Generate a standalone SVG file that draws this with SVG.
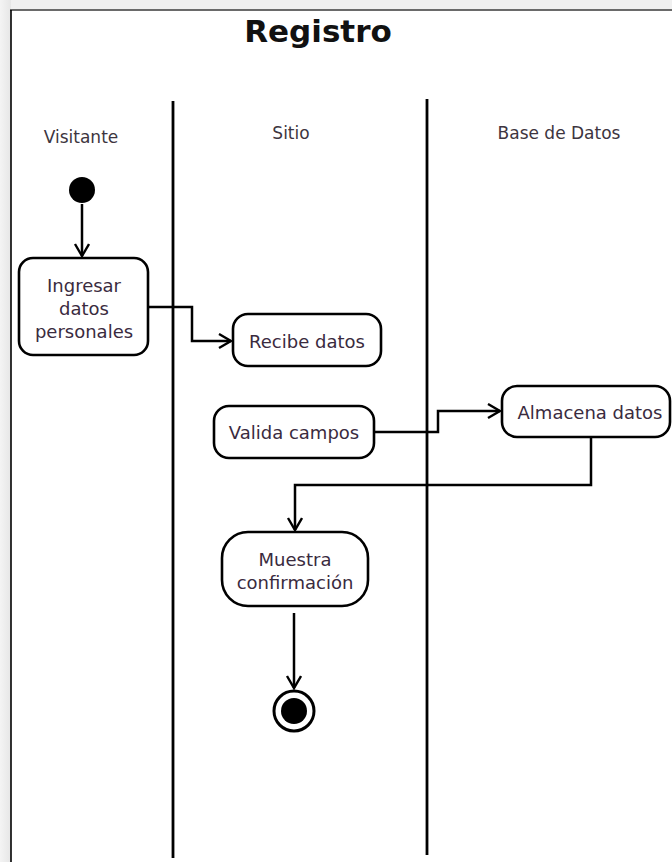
<svg xmlns="http://www.w3.org/2000/svg" width="672" height="862" viewBox="0 0 672 862">
<defs>
<linearGradient id="bgL" x1="0" y1="0" x2="1" y2="0"><stop offset="0" stop-color="#f4f4f4"/><stop offset="1" stop-color="#e6e6e6"/></linearGradient>
<marker id="arr" markerUnits="userSpaceOnUse" markerWidth="16" markerHeight="18" refX="13" refY="8" orient="auto">
<path d="M1,1 L13,8 L1,15" fill="none" stroke="#000" stroke-width="2.4"/>
</marker>
<style>
.box{fill:#fff;stroke:#000;stroke-width:2.6}
.t{font-family:"DejaVu Sans",Verdana,sans-serif;font-size:18px;fill:#3a2b3e;text-anchor:middle}
.lane{font-family:"DejaVu Sans",Verdana,sans-serif;font-size:17px;fill:#3d3540;text-anchor:middle}
.c{fill:none;stroke:#000;stroke-width:2.5}
.div{stroke:#000;stroke-width:2.8}
</style>
</defs>
<rect x="0" y="0" width="672" height="862" fill="#f0f0f0"/>
<rect x="0" y="0" width="11" height="862" fill="url(#bgL)"/>
<rect x="11" y="10" width="661" height="852" fill="#fff"/>
<line x1="10" y1="10" x2="672" y2="10" stroke="#6a6a6a" stroke-width="2"/>
<line x1="11" y1="10" x2="11" y2="862" stroke="#000" stroke-width="1.6"/>
<text x="318" y="42" font-family="'DejaVu Sans',Verdana,sans-serif" font-weight="bold" font-size="31" fill="#111" text-anchor="middle">Registro</text>
<g id="lanes">
<line class="div" x1="173" y1="101" x2="173" y2="858"/>
<line class="div" x1="427" y1="99" x2="427" y2="855"/>
<text class="lane" x="81" y="143">Visitante</text>
<text class="lane" x="291" y="139">Sitio</text>
<text class="lane" x="559" y="139">Base de Datos</text>
</g>
<g id="connectors">
<line class="c" x1="82" y1="204" x2="82" y2="256" marker-end="url(#arr)"/>
<polyline class="c" points="148,307 192,307 192,341 231,341" marker-end="url(#arr)"/>
<polyline class="c" points="374,432 438,432 438,411 500,411" marker-end="url(#arr)"/>
<polyline class="c" points="591,438 591,485 295,485 295,530" marker-end="url(#arr)"/>
<line class="c" x1="294" y1="613" x2="294" y2="688" marker-end="url(#arr)"/>
</g>
<g id="start"><circle cx="82" cy="190" r="13" fill="#000"/></g>
<g id="ingresar">
<rect class="box" x="19" y="258" width="129" height="97" rx="14"/>
<text class="t" x="84" y="292">Ingresar</text>
<text class="t" x="84" y="315">datos</text>
<text class="t" x="84" y="338">personales</text>
</g>
<g id="recibe">
<rect class="box" x="233" y="314" width="148" height="52" rx="15"/>
<text class="t" x="307" y="348">Recibe datos</text>
</g>
<g id="valida">
<rect class="box" x="214" y="406" width="160" height="52" rx="15"/>
<text class="t" x="294" y="439">Valida campos</text>
</g>
<g id="almacena">
<rect class="box" x="502" y="386" width="168" height="51" rx="15"/>
<text class="t" x="590" y="419">Almacena datos</text>
</g>
<g id="muestra">
<rect class="box" x="222" y="532" width="146" height="74" rx="26"/>
<text class="t" x="295" y="566">Muestra</text>
<text class="t" x="295" y="589">confirmación</text>
</g>
<g id="end">
<circle cx="294" cy="711" r="20" fill="#fff" stroke="#000" stroke-width="3"/>
<circle cx="294" cy="711" r="13" fill="#000"/>
</g>
</svg>
